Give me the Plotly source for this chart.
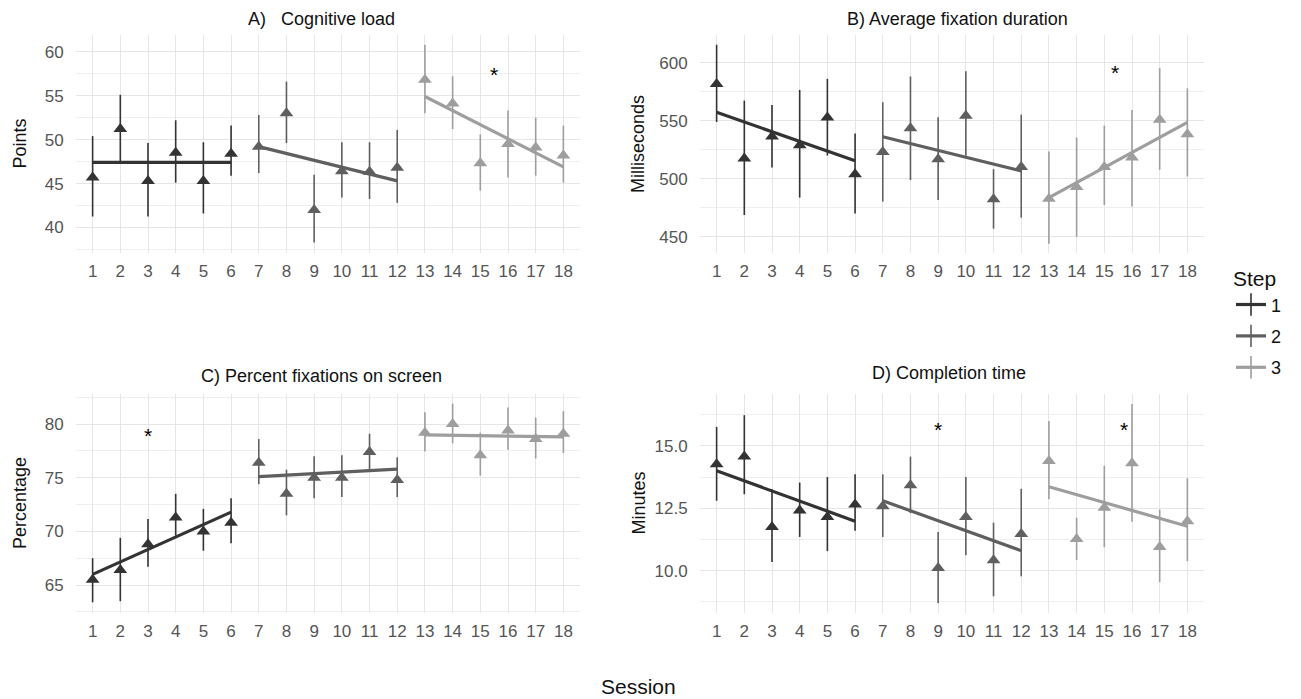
import plotly.graph_objects as go

W, H = 1301, 699

sessions = list(range(1, 19))
steps = [1, 2, 3]
step_sessions = {1: [1, 2, 3, 4, 5, 6], 2: [7, 8, 9, 10, 11, 12], 3: [13, 14, 15, 16, 17, 18]}
step_colors = {1: "#333333", 2: "#5f5f5f", 3: "#9e9e9e"}

# ---- A) Cognitive load ----
load_mean = [45.7, 51.2, 45.3, 48.5, 45.3, 48.4, 49.2, 53.0, 42.0, 46.4, 46.35, 46.8, 56.8, 54.1, 47.3, 49.5, 49.1, 48.2]
load_low = [41.25, 47.4, 41.25, 45.1, 41.6, 45.9, 46.2, 49.6, 38.3, 43.4, 43.25, 42.8, 53.0, 51.2, 44.2, 45.7, 45.9, 45.1]
load_high = [50.4, 55.1, 49.6, 52.2, 49.7, 51.6, 52.8, 56.6, 46.0, 49.7, 49.7, 51.1, 60.8, 57.2, 50.6, 53.3, 52.5, 51.6]
load_fit = {1: [47.4, 47.4], 2: [49.2, 45.3], 3: [54.9, 46.9]}
load_star = ([15.5], [57.6])

# ---- B) Average fixation duration ----
fix_mean = [581.8, 517.5, 536.5, 529.0, 552.9, 503.9, 523.2, 543.5, 516.9, 554.4, 482.3, 510.2, 482.8, 492.9, 510.2, 518.3, 550.9, 538.5]
fix_low = [549.0, 468.8, 509.7, 483.8, 520.0, 470.0, 480.3, 499.0, 481.7, 519.8, 457.0, 466.5, 444.0, 450.0, 477.4, 476.0, 507.7, 502.0]
fix_high = [615.6, 567.4, 563.7, 576.6, 586.2, 539.0, 566.0, 588.2, 553.0, 592.8, 508.3, 555.3, 523.6, 535.7, 545.8, 559.3, 595.4, 578.0]
fix_fit = {1: [557.3, 515.5], 2: [536.3, 506.8], 3: [483.8, 548.7]}
fix_star = ([15.4], [593.0])

# ---- C) Percent fixations on screen ----
pct_mean = [65.5, 66.4, 68.8, 71.3, 70.0, 70.8, 76.4, 73.5, 75.0, 75.0, 77.4, 74.8, 79.2, 80.0, 77.1, 79.4, 78.6, 79.1]
pct_low = [63.4, 63.5, 66.7, 69.6, 68.2, 68.9, 74.4, 71.5, 73.1, 73.2, 75.8, 73.2, 77.45, 78.2, 75.2, 77.6, 76.8, 77.3]
pct_high = [67.5, 69.4, 71.15, 73.5, 72.1, 73.1, 78.6, 75.75, 77.0, 77.1, 79.1, 76.9, 81.1, 81.9, 79.2, 81.55, 80.6, 81.2]
pct_fit = {1: [66.0, 71.8], 2: [75.1, 75.8], 3: [79.0, 78.8]}
pct_star = ([3], [79.1])

# ---- D) Completion time ----
time_mean = [14.26, 14.57, 11.75, 12.41, 12.15, 12.65, 12.58, 13.42, 10.10, 12.15, 10.41, 11.47, 14.39, 11.27, 12.52, 14.30, 10.95, 11.98]
time_low = [12.8, 13.06, 10.34, 11.35, 10.78, 11.6, 11.35, 12.3, 8.7, 10.62, 8.97, 9.77, 12.86, 10.42, 10.94, 11.96, 9.54, 10.38]
time_high = [15.76, 16.23, 13.26, 13.53, 13.75, 13.86, 13.86, 14.57, 11.55, 13.75, 11.92, 13.28, 16.0, 12.12, 14.2, 16.68, 12.45, 13.7]
time_fit = {1: [14.0, 11.98], 2: [12.8, 10.8], 3: [13.36, 11.78]}
time_star = ([9, 15.7], [15.74, 15.74])

panels = [
    dict(title="A)\u00a0\u00a0 Cognitive load", ytitle="Points", mean=load_mean, low=load_low, high=load_high,
         fit=load_fit, star=load_star, yrange=[37.1, 61.9], dtick=5, minor=2.5, fmt=None,
         dom_x=(76, 580), dom_y=(35, 253), title_pos=(321, 19), ytitle_x=19.5),
    dict(title="B) Average fixation duration", ytitle="Milliseconds", mean=fix_mean, low=fix_low, high=fix_high,
         fit=fix_fit, star=fix_star, yrange=[436, 624], dtick=50, minor=25, fmt=None,
         dom_x=(700, 1204), dom_y=(35, 253), title_pos=(957, 19), ytitle_x=638),
    dict(title="C) Percent fixations on screen", ytitle="Percentage", mean=pct_mean, low=pct_low, high=pct_high,
         fit=pct_fit, star=pct_star, yrange=[62.4, 82.8], dtick=5, minor=2.5, fmt=None,
         dom_x=(76, 580), dom_y=(394, 613), title_pos=(321, 376), ytitle_x=19.5),
    dict(title="D) Completion time", ytitle="Minutes", mean=time_mean, low=time_low, high=time_high,
         fit=time_fit, star=time_star, yrange=[8.3, 17.08], dtick=2.5, minor=1.25, fmt=".1f",
         dom_x=(700, 1204), dom_y=(394, 613), title_pos=(949, 373), ytitle_x=638),
]

FONT = "Liberation Sans, Arial, sans-serif"
TICK_COLOR = "#555555"
GRID = "#e6e6e6"
MINOR_GRID = "#efefef"

fig = go.Figure()
annotations = []


def px_x(x):
    return x / W


def px_y(y):
    return 1 - y / H


for i, p in enumerate(panels):
    k = "" if i == 0 else str(i + 1)
    xa, ya = "x" + k, "y" + k
    for s in steps:
        idx = [sessions.index(v) for v in step_sessions[s]]
        xs = [sessions[j] for j in idx]
        m = [p["mean"][j] for j in idx]
        lo = [p["low"][j] for j in idx]
        hi = [p["high"][j] for j in idx]
        fig.add_trace(go.Scatter(
            x=xs, y=m, mode="markers", xaxis=xa, yaxis=ya, showlegend=False,
            marker=dict(symbol="triangle-up", size=12, color=step_colors[s]),
            error_y=dict(type="data", symmetric=False,
                         array=[h - v for h, v in zip(hi, m)],
                         arrayminus=[v - l for v, l in zip(m, lo)],
                         width=0, thickness=1.6, color=step_colors[s]),
        ))
        fig.add_trace(go.Scatter(
            x=[xs[0], xs[-1]], y=p["fit"][s], mode="lines", xaxis=xa, yaxis=ya,
            showlegend=False, line=dict(color=step_colors[s], width=3.2),
        ))
    annotations += [
        dict(x=sx, y=sy, xref=xa, yref=ya, text="*", showarrow=False, yshift=-2,
             font=dict(size=21, color="#000000", family=FONT))
        for sx, sy in zip(*p["star"])
    ]
    x0, x1 = p["dom_x"]
    y0, y1 = p["dom_y"]
    fig.layout["xaxis" + k] = dict(
        domain=[px_x(x0), px_x(x1)], anchor=ya, range=[0.4, 18.6],
        tickmode="array", tickvals=sessions, ticktext=[str(v) for v in sessions],
        showgrid=True, gridcolor=GRID, gridwidth=1.2, zeroline=False, showline=False,
        ticks="outside", ticklen=3, tickcolor="rgba(0,0,0,0)",
        tickfont=dict(size=17, color=TICK_COLOR, family=FONT),
    )
    fig.layout["yaxis" + k] = dict(
        domain=[px_y(y1), px_y(y0)], anchor=xa, range=p["yrange"],
        dtick=p["dtick"], tick0=0, tickformat=p["fmt"],
        showgrid=True, gridcolor=GRID, gridwidth=1.2, zeroline=False, showline=False,
        ticks="outside", ticklen=8, tickcolor="rgba(0,0,0,0)",
        tickfont=dict(size=17, color=TICK_COLOR, family=FONT),
        minor=dict(dtick=p["minor"], tick0=0, showgrid=True, gridcolor=MINOR_GRID, gridwidth=1),
    )
    tx, ty = p["title_pos"]
    annotations.append(dict(x=px_x(tx), y=px_y(ty), xref="paper", yref="paper", text=p["title"],
                            showarrow=False, xanchor="center", yanchor="middle",
                            font=dict(size=18, color="#111111", family=FONT)))
    annotations.append(dict(x=px_x(p["ytitle_x"]), y=px_y((y0 + y1) / 2), xref="paper", yref="paper",
                            text=p["ytitle"], textangle=-90, showarrow=False,
                            xanchor="center", yanchor="middle",
                            font=dict(size=18, color="#111111", family=FONT)))

annotations.append(dict(x=px_x(638), y=px_y(686), xref="paper", yref="paper", text="Session",
                        showarrow=False, xanchor="center", yanchor="middle",
                        font=dict(size=21, color="#111111", family=FONT)))

for s in steps:
    fig.add_trace(go.Scatter(
        x=[None], y=[None], mode="lines+markers", name=str(s), showlegend=True,
        legendgroup="step" + str(s),
        line=dict(color=step_colors[s], width=3.2),
        marker=dict(symbol="line-ns-open", size=20, color=step_colors[s],
                    line=dict(width=1.6, color=step_colors[s])),
    ))

fig.update_layout(
    width=W, height=H, margin=dict(l=0, r=0, t=0, b=0),
    paper_bgcolor="white", plot_bgcolor="white",
    annotations=annotations,
    font=dict(family=FONT),
    legend=dict(title=dict(text="Step", font=dict(size=21, color="#111111", family=FONT)),
                font=dict(size=18, color="#111111", family=FONT),
                x=px_x(1231), y=px_y(259), xanchor="left", yanchor="top",
                itemwidth=30, tracegroupgap=5, bgcolor="rgba(0,0,0,0)"),
)

fig.write_html("out.html")
